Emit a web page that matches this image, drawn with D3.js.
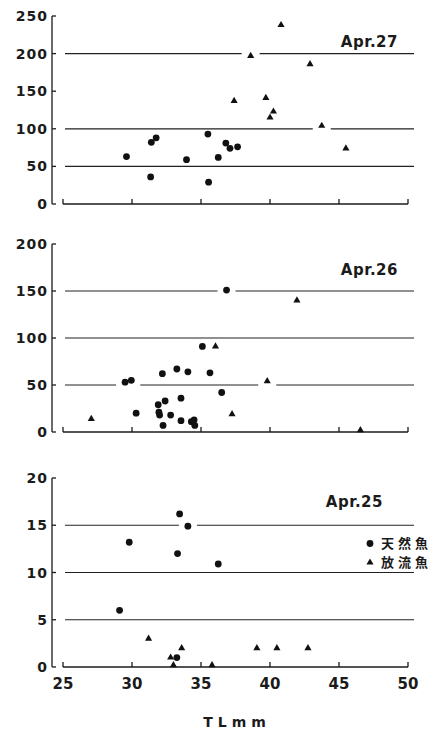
<!DOCTYPE html>
<html lang="ja">
<head>
<meta charset="UTF-8">
<title>TL mm scatter</title>
<script src="https://d3js.org/d3.v7.min.js"></script>
<style>
  body { margin: 0; background: #fff; }
  .tick-label { font-family: "DejaVu Sans", sans-serif; font-weight: bold; fill: #1b1b1b; }
  .axis-line { stroke: #1b1b1b; stroke-width: 1.3; fill: none; }
  .grid { stroke: #222; stroke-width: 1.2; }
</style>
</head>
<body>
<div id="chart"></div>
<script>
// x ticks (TL mm)
const xTicks = [25, 30, 35, 40, 45, 50];

// panel titles, y ticks, reference lines
const dates = ["Apr.27", "Apr.26", "Apr.25"];
const yTicks = [[0, 50, 100, 150, 200, 250], [0, 50, 100, 150, 200], [0, 5, 10, 15, 20]];
const refLines = [[50, 100, 200], [50, 100, 150], [5, 10, 15]];

// 天然魚 (circles) : [TL, value]
const wild27 = [[29.6, 63], [31.35, 36], [31.4, 82], [31.75, 88], [33.95, 59], [35.5, 93],
  [35.55, 29], [36.25, 62], [36.8, 81], [37.1, 74], [37.65, 76]];
const wild26 = [[29.5, 53], [29.95, 55], [30.3, 20], [31.9, 29], [31.95, 21], [32.0, 18],
  [32.2, 62], [32.25, 7], [32.4, 33], [32.8, 18], [33.25, 67], [33.55, 36], [33.55, 12],
  [34.05, 64], [34.3, 11], [34.5, 13], [34.55, 7], [35.1, 91], [35.65, 63], [36.5, 42], [36.85, 151]];
const wild25 = [[29.1, 6], [29.8, 13.2], [33.3, 12], [33.45, 16.2], [34.05, 14.9], [33.25, 1], [36.25, 10.9]];

// 放流魚 (triangles) : [TL, value]
const hatch27 = [[37.4, 137], [38.6, 197], [39.7, 141], [40.0, 115], [40.25, 123], [40.8, 238],
  [42.9, 186], [43.75, 104], [45.5, 74]];
const hatch26 = [[27.05, 14], [36.05, 91], [37.25, 19], [39.8, 54], [41.95, 140], [46.55, 2]];
const hatch25 = [[31.2, 3], [32.8, 1], [33.0, 0.2], [33.6, 2], [35.8, 0.2], [39.05, 2], [40.5, 2], [42.75, 2]];

const wild = [wild27, wild26, wild25];
const hatch = [hatch27, hatch26, hatch25];

const legendNames = ["天然魚", "放流魚"];
const xTitle = "TLmm";

const width = 443, height = 730;
const svg = d3.select("#chart").append("svg")
  .attr("width", width).attr("height", height);

const x = d3.scaleLinear().domain([25, 50]).range([63, 408]);
const yAxisX = 52;
const panelRanges = [[204, 16], [432, 244], [667, 478]];

const tri = d3.symbol().type(d3.symbolTriangle).size(22);

dates.forEach((date, i) => {
  const ticks = yTicks[i];
  const y = d3.scaleLinear().domain([0, d3.max(ticks)]).range(panelRanges[i]);
  const g = svg.append("g");

  // y axis: vertical line with short inward ticks
  g.append("line").attr("class", "axis-line")
    .attr("x1", yAxisX).attr("x2", yAxisX)
    .attr("y1", y(d3.max(ticks))).attr("y2", y(0));
  g.selectAll(".ytick").data(ticks).enter().append("line")
    .attr("class", "axis-line")
    .attr("x1", yAxisX).attr("x2", yAxisX + 4)
    .attr("y1", d => y(d)).attr("y2", d => y(d));
  g.selectAll(".ylab").data(ticks).enter().append("text")
    .attr("class", "tick-label")
    .attr("x", yAxisX - 4).attr("y", d => y(d))
    .attr("dy", "0.36em")
    .attr("text-anchor", "end")
    .style("font-size", "14px").style("letter-spacing", "1px")
    .text(d => d);

  // x baseline with upward ticks
  g.append("line").attr("class", "axis-line")
    .attr("x1", x(25)).attr("x2", x(50))
    .attr("y1", y(0)).attr("y2", y(0));
  g.selectAll(".xtick").data(xTicks).enter().append("line")
    .attr("class", "axis-line")
    .attr("x1", d => x(d)).attr("x2", d => x(d))
    .attr("y1", y(0)).attr("y2", y(0) - 5);

  // reference lines, broken where a mark sits on them
  const pts = wild[i].concat(hatch[i]);
  refLines[i].forEach(v => {
    const yy = y(v);
    const x0 = x(25) + 2, x1 = x(50) + 6;
    const gaps = pts.filter(p => Math.abs(y(p[1]) - yy) < 5)
      .map(p => [x(p[0]) - 9, x(p[0]) + 9])
      .sort((a, b) => a[0] - b[0]);
    let cur = x0;
    const segs = [];
    gaps.forEach(gp => {
      if (gp[0] > cur) segs.push([cur, gp[0]]);
      cur = Math.max(cur, gp[1]);
    });
    if (cur < x1) segs.push([cur, x1]);
    g.selectAll(null).data(segs).enter().append("line")
      .attr("class", "grid")
      .attr("x1", s => s[0]).attr("x2", s => s[1])
      .attr("y1", yy).attr("y2", yy);
  });

  // marks
  g.selectAll(".dot").data(wild[i]).enter().append("circle")
    .attr("cx", d => x(d[0])).attr("cy", d => y(d[1]))
    .attr("r", 3.4).attr("fill", "#111");
  g.selectAll(".tri").data(hatch[i]).enter().append("path")
    .attr("d", tri)
    .attr("transform", d => `translate(${x(d[0])},${y(d[1])})`)
    .attr("fill", "#111");

  // date label
  const labelPos = [[398, 47], [398, 275], [383, 507]];
  g.append("text").attr("class", "tick-label")
    .attr("x", labelPos[i][0]).attr("y", labelPos[i][1])
    .attr("text-anchor", "end")
    .style("font-size", "15px").style("letter-spacing", "0.5px")
    .text(date);
});

// x tick labels under the bottom panel
svg.selectAll(".xlab").data(xTicks).enter().append("text")
  .attr("class", "tick-label")
  .attr("x", d => x(d)).attr("y", 689)
  .attr("text-anchor", "middle")
  .style("font-size", "15px")
  .text(d => d);

svg.append("text").attr("class", "tick-label")
  .attr("x", 237).attr("y", 727)
  .attr("text-anchor", "middle")
  .style("font-size", "14px").style("letter-spacing", "5px")
  .text(xTitle);

// legend
const legend = svg.append("g");
legend.append("circle").attr("cx", 370).attr("cy", 543.5).attr("r", 3.4).attr("fill", "#111");
legend.append("path").attr("d", tri).attr("transform", "translate(370,562.5)").attr("fill", "#111");
legend.selectAll("text").data(legendNames).enter().append("text")
  .attr("x", 381).attr("y", (d, k) => 548 + k * 19)
  .style("font-family", "'Noto Sans CJK JP', sans-serif")
  .style("font-weight", "bold").style("font-size", "13px")
  .style("letter-spacing", "4px").style("fill", "#1b1b1b")
  .text(d => d);
</script>
</body>
</html>
